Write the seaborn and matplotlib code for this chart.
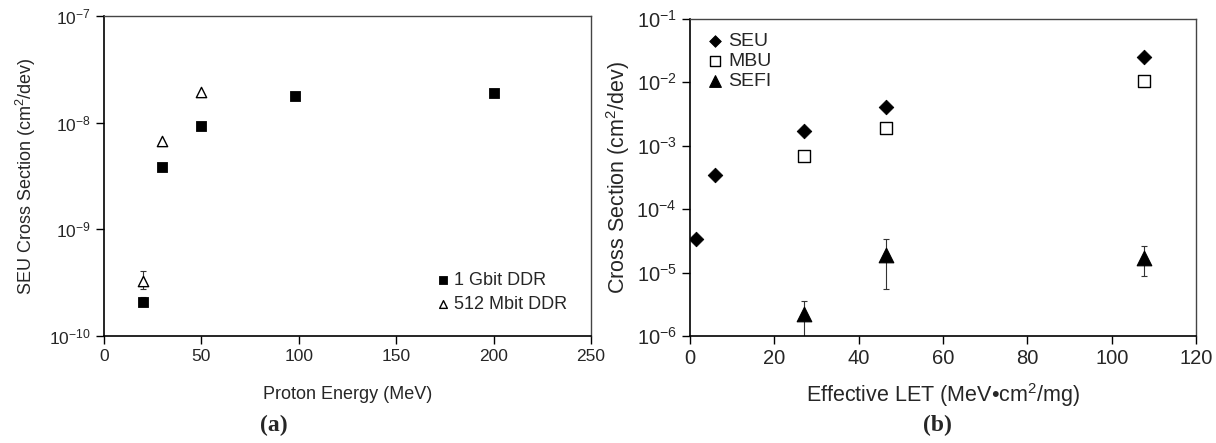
import numpy as np
import pandas as pd
import matplotlib
matplotlib.use("Agg")
import matplotlib.pyplot as plt
import seaborn as sns

# panel (a) data: proton energy vs SEU cross section
gbit_energy = [20, 30, 50, 98, 200]
gbit_xs = [2.1e-10, 3.85e-9, 9.4e-9, 1.78e-8, 1.88e-8]
gbit_err_lo = [1.9e-10, None, None, None, None]
gbit_err_hi = [2.3e-10, None, None, None, None]

mbit_energy = [20, 30, 50]
mbit_xs = [3.3e-10, 6.8e-9, 1.92e-8]
mbit_err_lo = [2.75e-10, None, None]
mbit_err_hi = [4.05e-10, None, None]

# panel (b) data: effective LET vs cross section
seu_let = [1.4, 5.9, 27.0, 46.5, 107.6]
seu_xs = [3.4e-5, 3.5e-4, 1.7e-3, 4.1e-3, 2.45e-2]

mbu_let = [27.0, 46.5, 107.6]
mbu_xs = [6.8e-4, 1.9e-3, 1.05e-2]

sefi_let = [27.0, 46.5, 107.6]
sefi_xs = [2.2e-6, 1.9e-5, 1.7e-5]
sefi_lo = [8e-7, 5.6e-6, 8.8e-6]
sefi_hi = [3.6e-6, 3.4e-5, 2.6e-5]

sns.set_theme(style="white")
plt.rcParams['font.family'] = ['Liberation Sans', 'DejaVu Sans']
plt.rcParams['mathtext.fontset'] = 'custom'
plt.rcParams['mathtext.rm'] = 'Liberation Sans'

fig = plt.figure(figsize=(12.16, 4.43), dpi=100)
ax1 = fig.add_axes([0.0855, 0.2415, 0.4005, 0.7225])
ax2 = fig.add_axes([0.5674, 0.2415, 0.4162, 0.7163])


def errbars(ax, x, y, lo, hi):
    for xi, yi, l, h in zip(x, y, lo, hi):
        if l is None:
            continue
        ax.errorbar([xi], [yi], yerr=[[yi - l], [h - yi]], fmt='none',
                    ecolor='#333333', elinewidth=0.8, capsize=2.5, capthick=0.8, zorder=1)


# ---- panel (a)
errbars(ax1, gbit_energy, gbit_xs, gbit_err_lo, gbit_err_hi)
errbars(ax1, mbit_energy, mbit_xs, mbit_err_lo, mbit_err_hi)
sns.scatterplot(x=gbit_energy, y=gbit_xs, ax=ax1, marker='s', s=55, color='black',
                edgecolor='black', label='1 Gbit DDR', zorder=3)
sns.scatterplot(x=mbit_energy, y=mbit_xs, ax=ax1, marker='^', s=55, facecolor='white',
                edgecolor='black', linewidth=1.0, label='512 Mbit DDR', zorder=3)
ax1.set_yscale('log')
ax1.set_xlim(0, 250)
ax1.set_ylim(1e-10, 1e-7)
ax1.set_xticks([0, 50, 100, 150, 200, 250])
ax1.set_xlabel('Proton Energy (MeV)', fontsize=13, labelpad=16)
ax1.set_ylabel('SEU Cross Section (cm$^2$/dev)', fontsize=13, labelpad=8)
ax1.legend(loc='lower right', frameon=False, fontsize=13, handletextpad=0.05,
           handlelength=1.2, borderaxespad=0.9, labelspacing=0.35, markerscale=0.75)

# ---- panel (b)
errbars(ax2, sefi_let, sefi_xs, sefi_lo, sefi_hi)
sns.scatterplot(x=seu_let, y=seu_xs, ax=ax2, marker='D', s=55, color='black',
                edgecolor='black', label='SEU', zorder=3)
sns.scatterplot(x=mbu_let, y=mbu_xs, ax=ax2, marker='s', s=85, facecolor='white',
                edgecolor='black', linewidth=1.0, label='MBU', zorder=3)
sns.scatterplot(x=sefi_let, y=sefi_xs, ax=ax2, marker='^', s=110, color='black',
                edgecolor='black', label='SEFI', zorder=3)
ax2.set_yscale('log')
ax2.set_xlim(0, 120)
ax2.set_ylim(1e-6, 1e-1)
ax2.set_xticks([0, 20, 40, 60, 80, 100, 120])
ax2.set_xlabel('Effective LET (MeV•cm$^2$/mg)', fontsize=15.5, labelpad=9)
ax2.set_ylabel('Cross Section (cm$^2$/dev)', fontsize=15.5, labelpad=3)
ax2.legend(loc='upper left', frameon=False, fontsize=14, handletextpad=0.05,
           handlelength=1.2, borderaxespad=0.3, labelspacing=0.12, markerscale=0.8)

for ax, fs in ((ax1, 12.5), (ax2, 14.5)):
    ax.minorticks_off()
    ax.tick_params(axis='both', which='major', direction='out', length=6, width=1,
                   labelsize=fs, bottom=True, left=True, color='black')
    for side in ('left', 'bottom'):
        ax.spines[side].set_color('black')
        ax.spines[side].set_linewidth(1.2)
    for side in ('top', 'right'):
        ax.spines[side].set_color('#444444')
        ax.spines[side].set_linewidth(1.0)

fig.text(0.2253, 0.0406, '(a)', fontsize=17, fontweight='bold', family='Liberation Serif',
         ha='center', va='center')
fig.text(0.7706, 0.0406, '(b)', fontsize=17, fontweight='bold', family='Liberation Serif',
         ha='center', va='center')

fig.savefig('out.png', dpi=100)
